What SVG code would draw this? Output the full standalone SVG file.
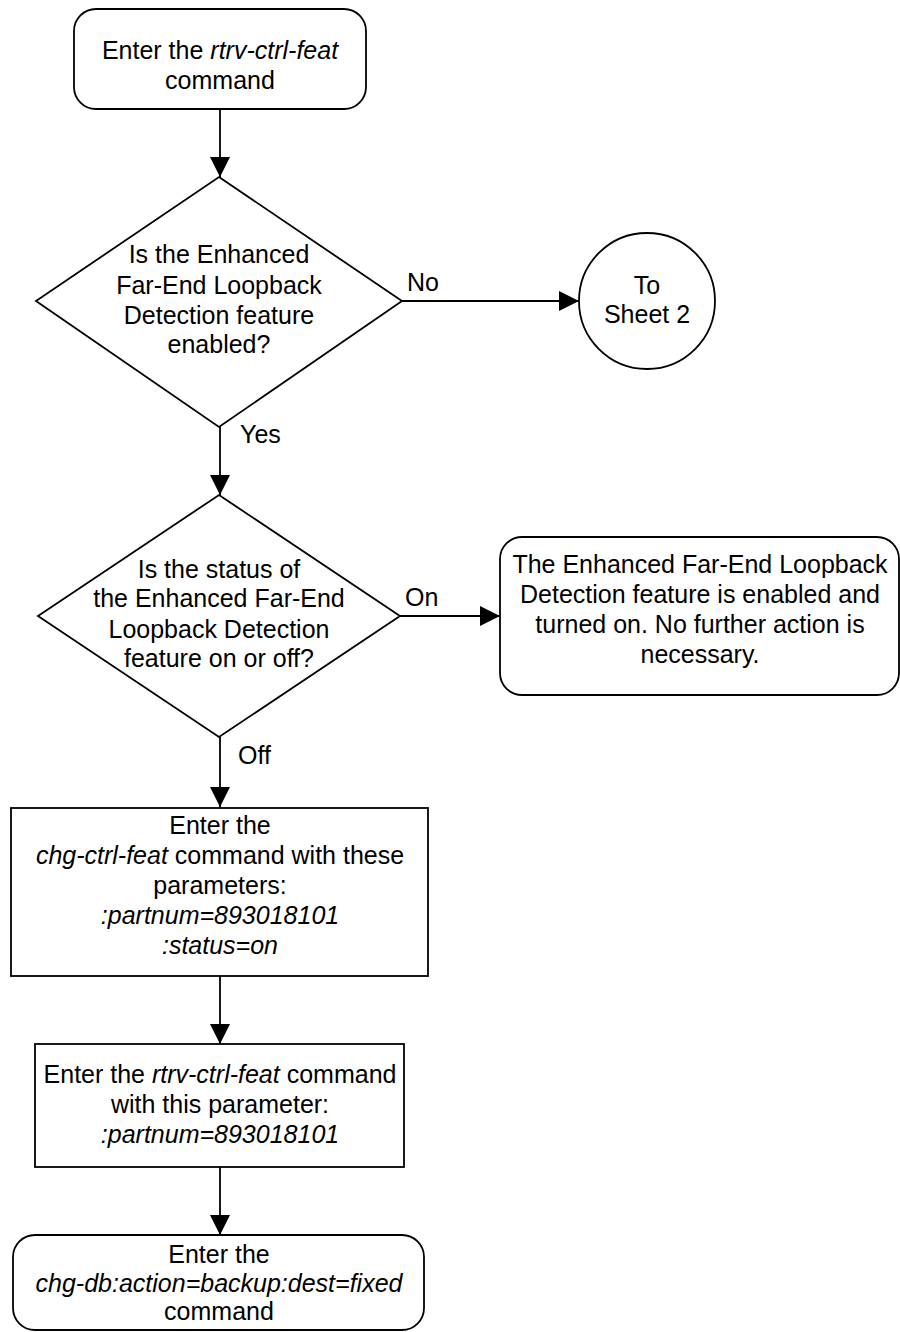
<svg xmlns="http://www.w3.org/2000/svg" width="900" height="1332" viewBox="0 0 900 1332">
<style>
.s{fill:#fff;stroke:#000;stroke-width:1.8}
.t{font-family:"Liberation Sans",Arial,sans-serif;font-size:25px;fill:#000;text-anchor:middle}
.l{font-family:"Liberation Sans",Arial,sans-serif;font-size:25px;fill:#000}
.i{font-style:italic}
.c{fill:none;stroke:#000;stroke-width:1.8}
</style>
<defs>
<marker id="ah" markerUnits="userSpaceOnUse" markerWidth="20" markerHeight="20" refX="20" refY="10" orient="auto">
<path d="M0,0 L20,10 L0,20 z" fill="#000"/>
</marker>
</defs>
<rect width="900" height="1332" fill="#fff"/>
<g id="connectors">
<line class="c" x1="220" y1="109" x2="220" y2="177" marker-end="url(#ah)"/>
<line class="c" x1="220" y1="427" x2="220" y2="495" marker-end="url(#ah)"/>
<line class="c" x1="402" y1="301" x2="579" y2="301" marker-end="url(#ah)"/>
<line class="c" x1="400" y1="616" x2="500" y2="616" marker-end="url(#ah)"/>
<line class="c" x1="220" y1="737" x2="220" y2="807" marker-end="url(#ah)"/>
<line class="c" x1="220" y1="976" x2="220" y2="1044" marker-end="url(#ah)"/>
<line class="c" x1="220" y1="1167" x2="220" y2="1235" marker-end="url(#ah)"/>
<text class="l" x="240" y="443">Yes</text>
<text class="l" x="407" y="291">No</text>
<text class="l" x="405" y="606">On</text>
<text class="l" x="238" y="764">Off</text>
</g>
<g id="start">
<rect class="s" x="74" y="9" width="292" height="100" rx="22" ry="22"/>
<text class="t" x="220" y="59">Enter the <tspan class="i">rtrv-ctrl-feat</tspan></text>
<text class="t" x="220" y="89">command</text>
</g>
<g id="decision1">
<polygon class="s" points="219,177 402,301 219,427 36,301"/>
<text class="t" x="219" y="263">Is the Enhanced</text>
<text class="t" x="219" y="294">Far-End Loopback</text>
<text class="t" x="219" y="324">Detection feature</text>
<text class="t" x="219" y="353">enabled?</text>
</g>
<g id="sheet2">
<circle class="s" cx="647" cy="301" r="68"/>
<text class="t" x="647" y="294">To</text>
<text class="t" x="647" y="323">Sheet 2</text>
</g>
<g id="decision2">
<polygon class="s" points="219,495 400,616 219,737 38,616"/>
<text class="t" x="219" y="578">Is the status of</text>
<text class="t" x="219" y="607">the Enhanced Far-End</text>
<text class="t" x="219" y="638">Loopback Detection</text>
<text class="t" x="219" y="667">feature on or off?</text>
</g>
<g id="done">
<rect class="s" x="500" y="537" width="399" height="158" rx="22" ry="22"/>
<text class="t" x="700" y="573">The Enhanced Far-End Loopback</text>
<text class="t" x="700" y="603">Detection feature is enabled and</text>
<text class="t" x="700" y="633">turned on. No further action is</text>
<text class="t" x="700" y="663">necessary.</text>
</g>
<g id="chgctrl">
<rect class="s" x="11" y="808" width="417" height="168"/>
<text class="t" x="220" y="834">Enter the</text>
<text class="t" x="220" y="864"><tspan class="i">chg-ctrl-feat</tspan> command with these</text>
<text class="t" x="220" y="894">parameters:</text>
<text class="t i" x="220" y="924">:partnum=893018101</text>
<text class="t i" x="220" y="954">:status=on</text>
</g>
<g id="rtrvctrl">
<rect class="s" x="35" y="1044" width="369" height="123"/>
<text class="t" x="220" y="1083">Enter the <tspan class="i">rtrv-ctrl-feat</tspan> command</text>
<text class="t" x="220" y="1113">with this parameter:</text>
<text class="t i" x="220" y="1143">:partnum=893018101</text>
</g>
<g id="chgdb">
<rect class="s" x="13" y="1235" width="411" height="95" rx="22" ry="22"/>
<text class="t" x="219" y="1263">Enter the</text>
<text class="t i" x="219" y="1292">chg-db:action=backup:dest=fixed</text>
<text class="t" x="219" y="1320">command</text>
</g>
</svg>
